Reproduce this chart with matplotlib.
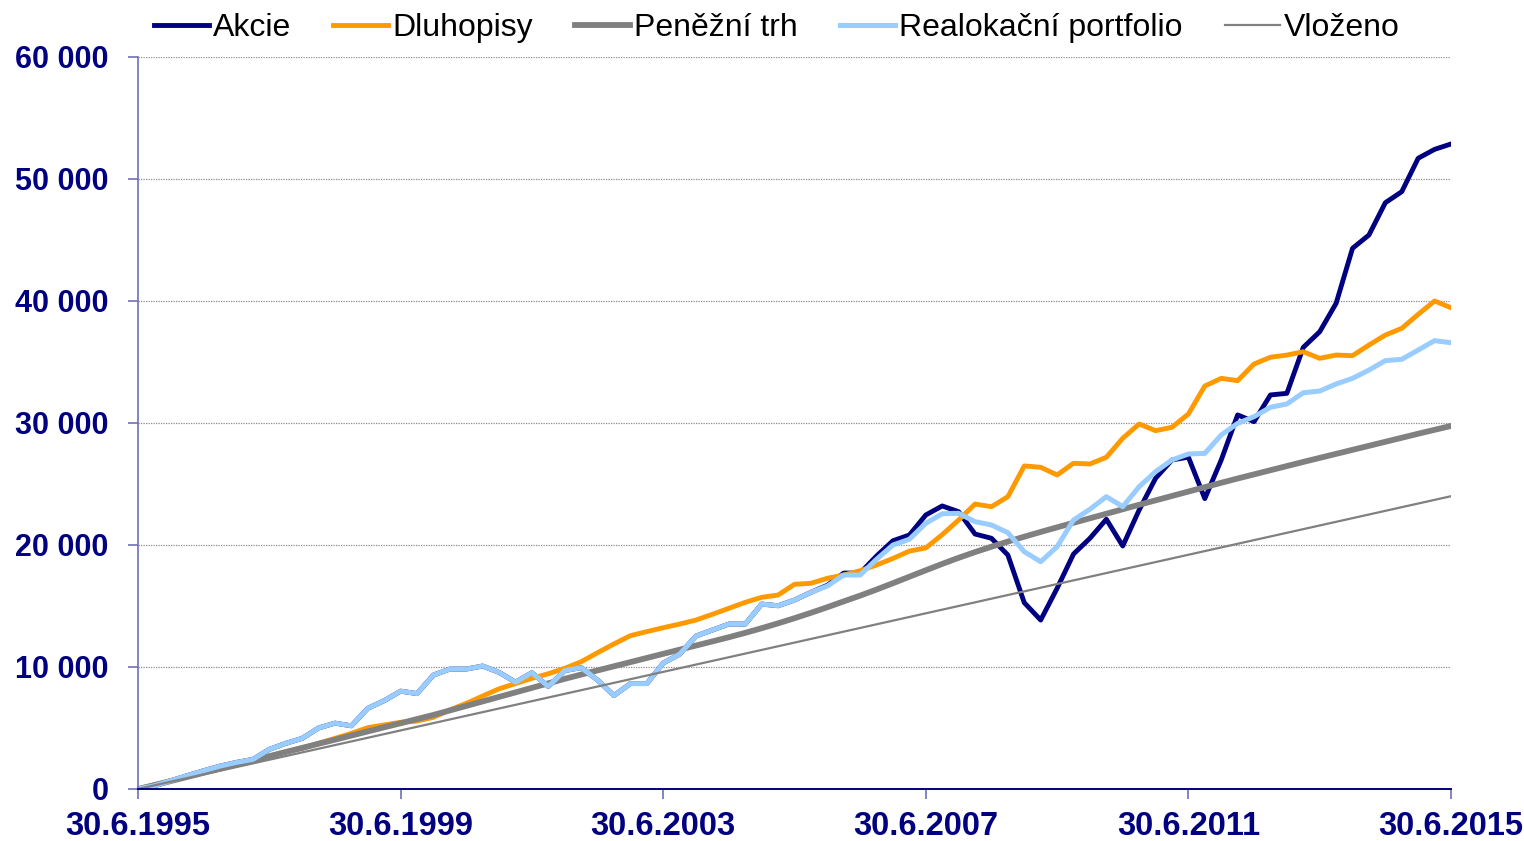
import matplotlib
matplotlib.use("Agg")
import matplotlib.pyplot as plt

# quarterly values, 30.6.1995 - 30.6.2015
quarters = list(range(0, 81))

realokacni = [0, 260, 680, 1100, 1500, 1880, 2180, 2430, 3250, 3740,
              4150, 5000, 5400, 5180, 6610, 7240, 8020, 7820, 9340, 9830,
              9830, 10080, 9560, 8760, 9530, 8410, 9700, 9950, 8930, 7660,
              8640, 8640, 10320, 11050, 12540, 13030, 13520, 13520, 15160, 15020,
              15490, 16120, 16640, 17540, 17540, 18830, 20000, 20470, 21780, 22560,
              22600, 21910, 21640, 21010, 19450, 18630, 19860, 22050, 22930, 23960,
              23140, 24780, 26010, 26970, 27460, 27510, 29020, 29970, 30520, 31290,
              31560, 32480, 32620, 33200, 33660, 34340, 35110, 35220, 35980, 36750,
              36580]

akcie = [0, 260, 680, 1100, 1500, 1880, 2180, 2430, 3250, 3740,
         4150, 5000, 5400, 5180, 6610, 7240, 8020, 7820, 9340, 9830,
         9830, 10080, 9560, 8760, 9530, 8410, 9700, 9950, 8930, 7660,
         8640, 8640, 10320, 11050, 12540, 13030, 13520, 13520, 15160, 15020,
         15490, 16120, 16700, 17700, 17700, 19100, 20350, 20820, 22460, 23200,
         22730, 20900, 20550, 19180, 15270, 13850, 16450, 19260, 20550, 22110,
         19920, 22870, 25470, 26970, 27200, 23800, 26970, 30660, 30110, 32300,
         32430, 36200, 37480, 39810, 44320, 45410, 48060, 48960, 51700, 52430,
         52870]

dluhopisy = [0, 340, 680, 1020, 1350, 1660, 1960, 2240, 2700, 3060,
             3330, 3740, 4150, 4560, 5030, 5250, 5470, 5570, 5880, 6480,
             7020, 7620, 8210, 8640, 9070, 9450, 9890, 10430, 11170, 11890,
             12570, 12900, 13220, 13520, 13850, 14320, 14810, 15300, 15710, 15900,
             16780, 16860, 17270, 17540, 17890, 18360, 18900, 19500, 19760, 20850,
             22050, 23360, 23140, 23960, 26480, 26370, 25740, 26700, 26640, 27190,
             28750, 29920, 29370, 29650, 30740, 33030, 33660, 33470, 34840, 35390,
             35570, 35840, 35300, 35570, 35520, 36390, 37210, 37760, 38910, 40000,
             39450]

penezni_trh = [0, 320, 650, 990, 1330, 1670, 2010, 2350, 2690, 3030,
               3370, 3710, 4040, 4380, 4720, 5060, 5390, 5730, 6070, 6440,
               6810, 7180, 7550, 7920, 8290, 8660, 9030, 9380, 9720, 10060,
               10400, 10740, 11080, 11420, 11760, 12100, 12440, 12800, 13180, 13580,
               14000, 14440, 14900, 15380, 15850, 16350, 16870, 17400, 17930, 18450,
               18950, 19420, 19860, 20280, 20680, 21070, 21450, 21820, 22190, 22560,
               22930, 23300, 23660, 24020, 24380, 24740, 25100, 25450, 25790, 26130,
               26470, 26810, 27140, 27470, 27800, 28130, 28460, 28790, 29120, 29440,
               29760]

vlozeno = [0, 300, 600, 900, 1200, 1500, 1800, 2100, 2400, 2700,
           3000, 3300, 3600, 3900, 4200, 4500, 4800, 5100, 5400, 5700,
           6000, 6300, 6600, 6900, 7200, 7500, 7800, 8100, 8400, 8700,
           9000, 9300, 9600, 9900, 10200, 10500, 10800, 11100, 11400, 11700,
           12000, 12300, 12600, 12900, 13200, 13500, 13800, 14100, 14400, 14700,
           15000, 15300, 15600, 15900, 16200, 16500, 16800, 17100, 17400, 17700,
           18000, 18300, 18600, 18900, 19200, 19500, 19800, 20100, 20400, 20700,
           21000, 21300, 21600, 21900, 22200, 22500, 22800, 23100, 23400, 23700,
           24000]

x_ticks = [0, 16, 32, 48, 64, 80]
x_labels = ["30.6.1995", "30.6.1999", "30.6.2003", "30.6.2007", "30.6.2011", "30.6.2015"]
y_ticks = [0, 10000, 20000, 30000, 40000, 50000, 60000]
y_labels = ["0", "10 000", "20 000", "30 000", "40 000", "50 000", "60 000"]

plt.rcParams['font.family'] = ['Liberation Sans', 'DejaVu Sans']

fig = plt.figure(figsize=(15.24, 8.41), dpi=100)
ax = fig.add_axes([138/1524, 52/841, (1451-138)/1524, (789-57)/841])

ax.plot(quarters, akcie, color="#000080", lw=3.5, label="Akcie")
ax.plot(quarters, dluhopisy, color="#FF9900", lw=3.5, label="Dluhopisy")
ax.plot(quarters, penezni_trh, color="#808080", lw=4.2, label="Peněžní trh")
ax.plot(quarters, realokacni, color="#99CCFF", lw=3.6, label="Realokační portfolio")
ax.plot(quarters, vlozeno, color="#808080", lw=1.6, label="Vloženo")

ax.set_xlim(0, 80)
ax.set_ylim(0, 60000)

for v in y_ticks[1:]:
    ax.axhline(v, color="#8c8c8c", lw=0.9, linestyle=(0, (1, 1)), zorder=0)

ax.set_xticks(x_ticks)
ax.set_xticklabels(x_labels, fontsize=23.5, fontweight="bold", color="#000080")
ax.set_yticks(y_ticks)
ax.set_yticklabels(y_labels, fontsize=22, fontweight="bold", color="#000080")
ax.tick_params(axis="y", direction="out", length=7, width=1.2, color="#7070b8", pad=14)
ax.tick_params(axis="x", direction="out", length=7, width=1.2, color="#7070b8", pad=9)

ax.spines["top"].set_visible(False)
ax.spines["right"].set_visible(False)
ax.spines["left"].set_color("#7070b8")
ax.spines["left"].set_linewidth(1.2)
ax.spines["bottom"].set_color("#000080")
ax.spines["bottom"].set_linewidth(1.4)

fig.legend(loc="center", bbox_to_anchor=(777/1524, 1 - 28/841), ncol=5, frameon=False,
           fontsize=23, handlelength=1.72, handletextpad=0.13, columnspacing=1.32,
           borderaxespad=0, borderpad=0)

fig.savefig("out.png", dpi=100)
